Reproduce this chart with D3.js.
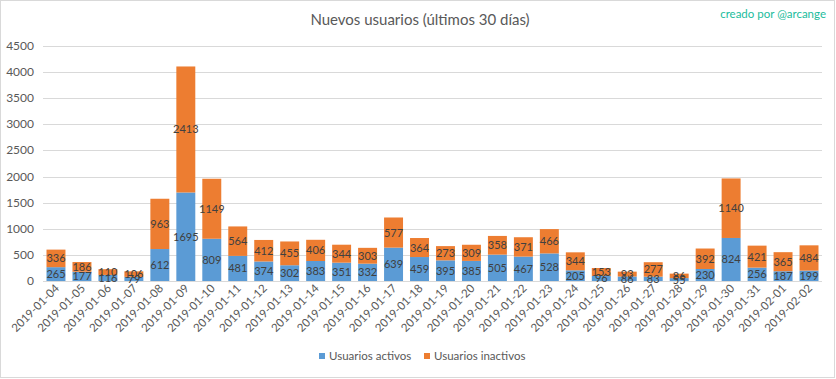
<!DOCTYPE html>
<html><head><meta charset="utf-8">
<script src="https://cdn.jsdelivr.net/npm/d3@7"></script>
<style>body{margin:0;background:#fff}svg{display:block}</style>
</head><body>
<script>
const dates = ["2019-01-04","2019-01-05","2019-01-06","2019-01-07","2019-01-08","2019-01-09","2019-01-10","2019-01-11","2019-01-12","2019-01-13","2019-01-14","2019-01-15","2019-01-16","2019-01-17","2019-01-18","2019-01-19","2019-01-20","2019-01-21","2019-01-22","2019-01-23","2019-01-24","2019-01-25","2019-01-26","2019-01-27","2019-01-28","2019-01-29","2019-01-30","2019-01-31","2019-02-01","2019-02-02"];
const activos = [265,177,116,79,612,1695,809,481,374,302,383,351,332,639,459,395,385,505,467,528,205,96,86,83,55,230,824,256,187,199];
const inactivos = [336,186,110,106,963,2413,1149,564,412,455,406,344,303,577,364,273,309,358,371,466,344,153,93,277,86,392,1140,421,365,484];
const yTicks = [0,500,1000,1500,2000,2500,3000,3500,4000,4500];
const seriesNames = ["Usuarios activos","Usuarios inactivos"];
const colors = ["#5B9BD5","#ED7D31"];

const W=836,H=379;
const font="Lato, 'Open Sans', sans-serif";
const svg=d3.select("body").append("svg").attr("width",W).attr("height",H);
svg.append("rect").attr("x",0.5).attr("y",0.5).attr("width",W-2).attr("height",H-2).attr("fill","#fff").attr("stroke","#d9d9d9");

const x=d3.scaleBand().domain(dates).range([43,822]).paddingInner(0.27).paddingOuter(0.135);
const y=d3.scaleLinear().domain([0,4500]).range([281,46]);

// grid
svg.append("g").selectAll("line").data(yTicks).join("line")
  .attr("x1",43).attr("x2",822).attr("y1",d=>Math.round(y(d))+0.5).attr("y2",d=>Math.round(y(d))+0.5)
  .attr("stroke","#d9d9d9").attr("stroke-width",1);
svg.append("g").selectAll("text").data(yTicks).join("text")
  .attr("x",34).attr("y",d=>y(d)+4).attr("text-anchor","end")
  .attr("font-family",font).attr("font-size",12).attr("fill","#595959").text(d=>d);

const data=dates.map((d,i)=>({date:d,a:activos[i],b:inactivos[i]}));
const stack=d3.stack().keys(["a","b"])(data);
stack.forEach((s,si)=>{
  const g=svg.append("g");
  g.selectAll("rect").data(s).join("rect")
    .attr("x",d=>x(d.data.date)).attr("width",x.bandwidth())
    .attr("y",d=>y(d[1])).attr("height",d=>y(d[0])-y(d[1]))
    .attr("fill",colors[si]);
});
stack.forEach((s,si)=>{
  svg.append("g").selectAll("text").data(s).join("text")
    .attr("x",d=>x(d.data.date)+x.bandwidth()/2)
    .attr("y",d=>(y(d[0])+y(d[1]))/2+4)
    .attr("text-anchor","middle").attr("font-family",font).attr("font-size",11)
    .attr("fill","#404040").text(d=>d[1]-d[0]);
});

// x labels
svg.append("g").selectAll("text").data(dates).join("text")
  .attr("transform",d=>`translate(${x(d)+x.bandwidth()/2+4},${289}) rotate(-45)`)
  .attr("text-anchor","end").attr("font-family",font).attr("font-size",11.5)
  .attr("fill","#595959").text(d=>d);

// title
svg.append("text").attr("x",420).attr("y",25).attr("text-anchor","middle")
  .attr("font-family",font).attr("font-size",15).attr("fill","#595959")
  .text("Nuevos usuarios (últimos 30 días)");
svg.append("text").attr("x",826).attr("y",18).attr("text-anchor","end")
  .attr("font-family",font).attr("font-size",11.5).attr("fill","#1ABC9C")
  .text("creado por @arcange");

// legend
const lx=[319,424];
seriesNames.forEach((n,i)=>{
  svg.append("rect").attr("x",lx[i]).attr("y",353).attr("width",6).attr("height",6).attr("fill",colors[i]);
  svg.append("text").attr("x",lx[i]+10).attr("y",360).attr("font-family",font).attr("font-size",11.5)
    .attr("fill","#595959").text(n);
});
</script>
</body></html>
